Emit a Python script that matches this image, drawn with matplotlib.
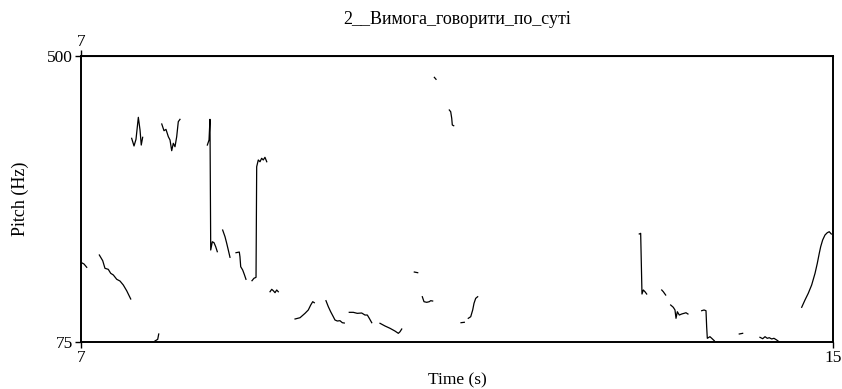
import numpy as np
import matplotlib as mpl
mpl.use('agg')
import matplotlib.pyplot as plt

plt.rcParams['font.family'] = ['Liberation Serif', 'DejaVu Serif']

title = '2__Вимога_говорити_по_суті'
t_range = [7, 15]
f_range = [75, 500]

# voiced stretches of the pitch track: time (s) and F0 (Hz)
times = [
    [7.007, 7.032, 7.061],
    [7.195, 7.231, 7.255, 7.290, 7.316, 7.344, 7.380, 7.415, 7.450, 7.486, 7.529],
    [7.539, 7.564, 7.585, 7.610, 7.628, 7.641, 7.656],
    [7.787, 7.816, 7.827],
    [7.859, 7.883, 7.904, 7.929, 7.947, 7.965, 7.982, 8.000, 8.018, 8.035, 8.053],
    [8.344, 8.362, 8.372, 8.380, 8.397, 8.415, 8.433, 8.450],
    [8.507, 8.532, 8.550, 8.567, 8.585],
    [8.649, 8.684, 8.691, 8.699, 8.720, 8.737, 8.755],
    [8.819, 8.840, 8.862, 8.869, 8.886, 8.904, 8.922, 8.939, 8.957, 8.976],
    [9.011, 9.029, 9.046, 9.064, 9.082, 9.099],
    [9.277, 9.330, 9.383, 9.418, 9.444, 9.465, 9.482],
    [9.606, 9.631, 9.656, 9.684, 9.702, 9.727, 9.755, 9.780, 9.801],
    [9.854, 9.897, 9.939, 9.986, 10.021, 10.046, 10.067, 10.093],
    [10.181, 10.234, 10.287, 10.340, 10.376, 10.394, 10.412],
    [10.546, 10.582],
    [10.631, 10.649, 10.678, 10.705, 10.720, 10.741],
    [10.759, 10.777],
    [10.918, 10.933, 10.944, 10.950, 10.965],
    [11.043, 11.078],
    [11.120, 11.146, 11.167, 11.181, 11.199, 11.220],
    [12.939, 12.954, 12.968, 12.982, 13.000, 13.018],
    [13.178, 13.195, 13.220],
    [13.273, 13.301, 13.319, 13.330, 13.344, 13.365, 13.390, 13.415, 13.436, 13.457],
    [13.603, 13.628, 13.649, 13.656, 13.663, 13.691, 13.710, 13.737],
    [14.003, 14.039],
    [14.223, 14.252, 14.277, 14.301, 14.322, 14.348, 14.372, 14.401, 14.426],
    [14.667, 14.702, 14.737, 14.773, 14.809, 14.833, 14.854, 14.869, 14.890, 14.915, 14.939, 14.960, 14.982],
]
pitch = [
    [192.8, 190.9, 186.0],
    [204.3, 195.8, 184.5, 183.0, 177.1, 174.6, 168.2, 165.6, 159.7, 151.2, 138.9],
    [377.7, 366.3, 376.2, 408.9, 390.0, 367.7, 379.2],
    [76.5, 79.0, 86.9],
    [399.0, 389.0, 391.0, 380.1, 375.2, 359.3, 370.3, 365.2, 380.1, 402.4, 405.9],
    [367.7, 375.2, 405.9, 211.7, 224.0, 222.6, 216.6, 209.2],
    [241.4, 231.5, 221.7, 211.7, 200.9],
    [207.7, 208.7, 201.8, 186.9, 182.0, 175.6, 168.2],
    [166.1, 169.7, 171.1, 335.5, 345.5, 342.9, 348.0, 345.5, 349.5, 342.9],
    [149.7, 153.3, 151.2, 148.3, 152.3, 149.7],
    [109.2, 111.1, 117.6, 122.6, 130.0, 134.9, 133.4],
    [136.4, 127.5, 120.0, 112.6, 107.7, 106.2, 106.7, 103.7, 103.2],
    [119.1, 119.1, 117.6, 118.1, 115.1, 115.1, 110.2, 103.7],
    [102.8, 98.8, 95.4, 91.3, 87.9, 90.3, 94.3],
    [179.0, 178.0],
    [142.3, 134.9, 134.0, 134.9, 136.4, 135.9],
    [468.3, 465.4],
    [419.8, 417.2, 407.4, 397.5, 396.4],
    [103.7, 104.3],
    [110.2, 112.6, 122.6, 132.5, 139.9, 142.3],
    [235.5, 236.5, 146.3, 152.3, 149.7, 146.3],
    [152.3, 149.7, 144.8],
    [130.0, 126.6, 122.6, 110.2, 120.0, 115.1, 116.6, 117.6, 118.5, 116.6],
    [121.5, 122.6, 121.5, 97.7, 80.5, 82.9, 80.5, 76.9],
    [86.9, 87.9],
    [82.0, 79.9, 82.9, 80.5, 81.4, 79.5, 80.5, 78.0, 75.4],
    [126.6, 137.4, 147.4, 159.7, 177.1, 191.9, 206.8, 216.6, 226.6, 234.0, 237.4, 238.9, 235.5],
]

fig = plt.figure(figsize=(8.42, 3.89), dpi=100)
ax = fig.add_axes([0.0962, 0.1208, 0.8931, 0.7352])

for t, f in zip(times, pitch):
    ax.plot(t, f, color='black', linewidth=0.9)

ax.set_xlim(t_range)
ax.set_ylim(f_range)
ax.set_xticks(t_range)
ax.set_xticklabels(['7', '15'])
ax.set_yticks(f_range)
ax.set_yticklabels(['75', '500'])
ax.tick_params(direction='out', length=4, width=1, labelsize=12.5, pad=2, colors='black')
for s in ax.spines.values():
    s.set_linewidth(1.4)

top = ax.secondary_xaxis('top')
top.set_xticks([7])
top.set_xticklabels(['7'])
top.tick_params(direction='out', length=4, width=1, labelsize=12.5, pad=0)

ax.set_xlabel('Time (s)', fontsize=12.5, labelpad=4)
ax.set_ylabel('Pitch (Hz)', fontsize=13, labelpad=13)
fig.text(0.543, 0.951, title, ha='center', va='center', fontsize=13)

fig.savefig('out.png', dpi=100)
